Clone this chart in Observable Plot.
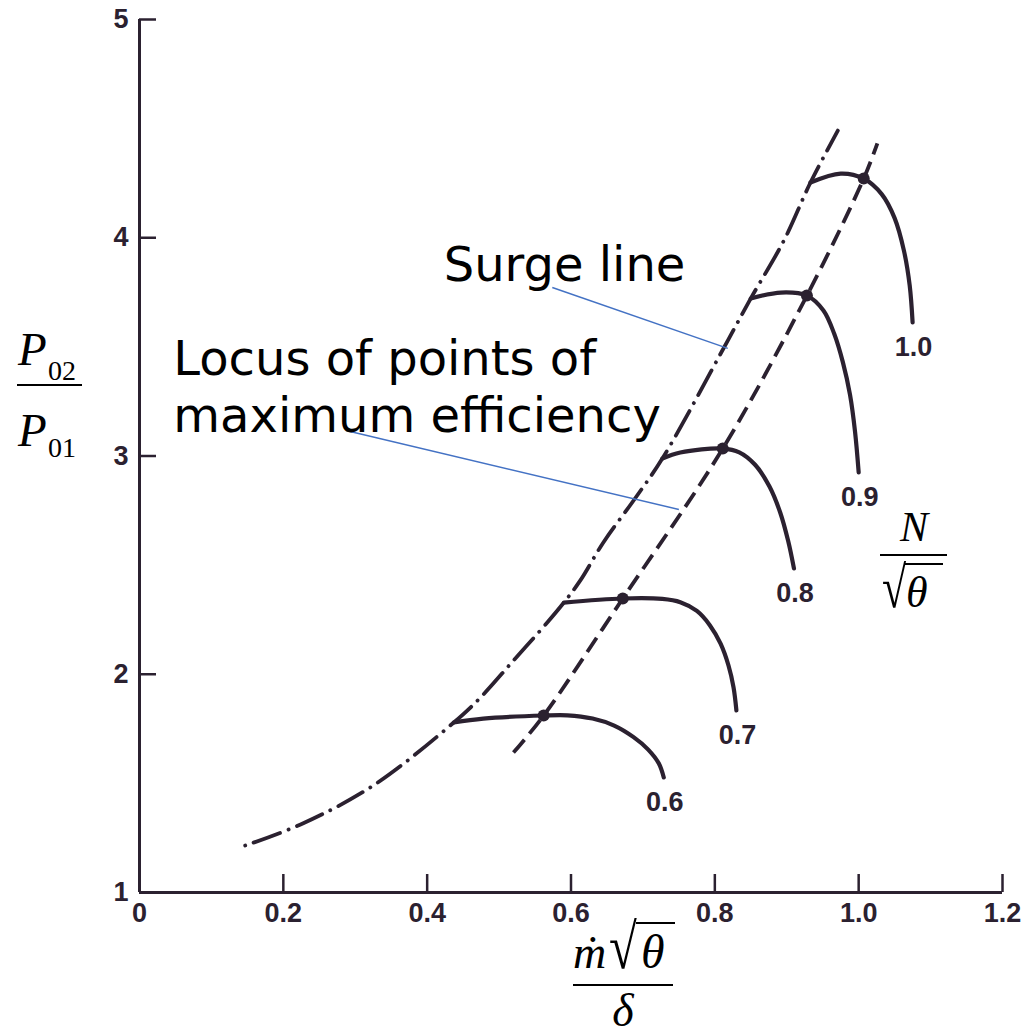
<!DOCTYPE html>
<html>
<head>
<meta charset="utf-8">
<script src="https://cdn.jsdelivr.net/npm/d3@7"></script>
<script src="https://cdn.jsdelivr.net/npm/@observablehq/plot@0.6"></script>
<style>
  body { margin: 0; background: #fff; }
  #chart { position: relative; width: 1036px; height: 1036px; }
  #chart svg.titles { position: absolute; left: 0; top: 0; pointer-events: none; }
</style>
</head>
<body>
<div id="chart"></div>
<script>
// Axis ticks
const xTicks = [0, 0.2, 0.4, 0.6, 0.8, 1.0, 1.2];
const yTicks = [1, 2, 3, 4, 5];

// Constant-speed characteristics N/√θ: mass flow parameter vs pressure ratio
const speedLabels = ["0.6", "0.7", "0.8", "0.9", "1.0"];
const flow06  = [0.437, 0.478, 0.562, 0.595, 0.630, 0.660, 0.687, 0.707, 0.722, 0.729];
const ratio06 = [1.779, 1.797, 1.811, 1.812, 1.797, 1.765, 1.712, 1.656, 1.592, 1.527];
const flow07  = [0.590, 0.672, 0.727, 0.752, 0.775, 0.793, 0.808, 0.819, 0.826, 0.830];
const ratio07 = [2.328, 2.347, 2.345, 2.330, 2.290, 2.225, 2.140, 2.040, 1.940, 1.834];
const flow08  = [0.727, 0.752, 0.811, 0.834, 0.856, 0.876, 0.891, 0.902, 0.910];
const ratio08 = [2.988, 3.016, 3.034, 3.017, 2.960, 2.860, 2.740, 2.610, 2.485];
const flow09  = [0.850, 0.892, 0.928, 0.951, 0.966, 0.978, 0.988, 0.995, 1.000];
const ratio09 = [3.722, 3.749, 3.735, 3.667, 3.560, 3.430, 3.280, 3.110, 2.925];
const flow10  = [0.933, 0.975, 1.007, 1.032, 1.050, 1.063, 1.071, 1.075];
const ratio10 = [4.253, 4.294, 4.271, 4.200, 4.090, 3.940, 3.780, 3.612];

// Points of maximum efficiency on each speed line
const peakFlow  = [0.562, 0.672, 0.811, 0.928, 1.007];
const peakRatio = [1.811, 2.347, 3.034, 3.735, 4.271];

// Surge line (dash-dot)
const surgeFlow  = [0.147, 0.227, 0.325, 0.437, 0.474, 0.520, 0.567, 0.590, 0.613, 0.645, 0.690, 0.727, 0.818, 0.850, 0.896, 0.933, 0.971];
const surgeRatio = [1.215, 1.316, 1.490, 1.779, 1.893, 2.063, 2.237, 2.328, 2.430, 2.604, 2.810, 2.988, 3.529, 3.722, 3.987, 4.253, 4.491];

// Locus of maximum efficiency (dashed)
const locusFlow  = [0.520, 0.562, 0.672, 0.811, 0.928, 1.007, 1.026];
const locusRatio = [1.641, 1.811, 2.347, 3.034, 3.735, 4.271, 4.432];

// Callouts: text anchors and leader lines in data units
const calloutText = ["Surge line", "Locus of points of\nmaximum efficiency"];
const calloutX = [0.423, 0.047];
const calloutY = [3.800, 3.108];
const leaderX1 = [0.574, 0.287];
const leaderY1 = [3.772, 3.117];
const leaderX2 = [0.818, 0.750];
const leaderY2 = [3.493, 2.755];

// ---- tables built from the arrays above ----
const speedFlows = [flow06, flow07, flow08, flow09, flow10];
const speedRatios = [ratio06, ratio07, ratio08, ratio09, ratio10];
const speedLines = speedLabels.flatMap((s, k) =>
  speedFlows[k].map((f, i) => ({speed: s, flow: f, ratio: speedRatios[k][i]})));
const speedEnds = speedLabels.map((s, k) => ({
  speed: s,
  flow: speedFlows[k][speedFlows[k].length - 1],
  ratio: speedRatios[k][speedRatios[k].length - 1]
}));
const peaks = peakFlow.map((f, i) => ({flow: f, ratio: peakRatio[i]}));
const surge = surgeFlow.map((f, i) => ({flow: f, ratio: surgeRatio[i]}));
const locus = locusFlow.map((f, i) => ({flow: f, ratio: locusRatio[i]}));
const callouts = calloutText.map((t, i) => ({text: t, flow: calloutX[i], ratio: calloutY[i]}));
const leaders = leaderX1.map((x, i) => ({x1: x, y1: leaderY1[i], x2: leaderX2[i], y2: leaderY2[i]}));

const ink = "#2b2130";
const tickFont = {fontSize: 27, fontWeight: "bold"};

const chart = Plot.plot({
  width: 1036,
  height: 1036,
  marginLeft: 139,
  marginRight: 34,
  marginTop: 19,
  marginBottom: 144,
  x: {domain: [0, 1.2]},
  y: {domain: [1, 5]},
  style: {fontFamily: "'Liberation Sans', Arial, Helvetica, sans-serif", background: "white", overflow: "visible"},
  marks: [
    // axis labels, ticks drawn inward below
    Plot.axisX(xTicks, {tickSize: 0, tickPadding: 10, label: null, color: ink, ...tickFont,
      tickFormat: d => d === 0 ? "0" : d.toFixed(1)}),
    Plot.axisY(yTicks, {tickSize: 0, tickPadding: 11, label: null, color: ink, ...tickFont,
      tickFormat: d => String(d)}),
    // axis lines
    Plot.ruleY([1], {x1: 0, x2: 1.2, stroke: ink, strokeWidth: 3}),
    Plot.ruleX([0], {y1: 1, y2: 5, stroke: ink, strokeWidth: 3}),
    // inward tick marks
    Plot.ruleX(xTicks.filter(d => d > 0), {x: d => d, y1: 1, y2: 1, insetTop: -18, stroke: ink, strokeWidth: 2.5}),
    Plot.ruleY(yTicks.filter(d => d > 1), {y: d => d, x1: 0, x2: 0, insetRight: -17, stroke: ink, strokeWidth: 2.5}),
    // surge line
    Plot.line(surge, {x: "flow", y: "ratio", curve: "catmull-rom", stroke: ink, strokeWidth: 3.8,
      strokeLinecap: "round", strokeDasharray: "0.1,9,28,9"}),
    // locus of maximum efficiency
    Plot.line(locus, {x: "flow", y: "ratio", curve: "catmull-rom", stroke: ink, strokeWidth: 3.8,
      strokeLinecap: "butt", strokeDasharray: "17,8"}),
    // constant-speed lines
    Plot.line(speedLines, {x: "flow", y: "ratio", z: "speed", curve: "catmull-rom", stroke: ink,
      strokeWidth: 4.2, strokeLinecap: "round", strokeLinejoin: "round"}),
    Plot.dot(peaks, {x: "flow", y: "ratio", r: 6, fill: ink}),
    // speed labels below each line end
    Plot.text(speedEnds, {x: "flow", y: "ratio", text: "speed", dy: 25, dx: 1, fill: ink, ...tickFont}),
    // callouts
    Plot.link(leaders, {x1: "x1", y1: "y1", x2: "x2", y2: "y2", stroke: "#4472C4", strokeWidth: 1.5}),
    Plot.text(callouts, {x: "flow", y: "ratio", text: "text", textAnchor: "start", lineAnchor: "bottom",
      lineHeight: 1.19, fontSize: 48, fill: "#000",
      fontFamily: "'DejaVu Sans', Verdana, sans-serif"})
  ]
});

const host = document.getElementById("chart");
host.appendChild(chart);

// Axis titles set as fractions
const ns = "http://www.w3.org/2000/svg";
const titles = document.createElementNS(ns, "svg");
titles.setAttribute("class", "titles");
titles.setAttribute("width", 1036);
titles.setAttribute("height", 1036);
titles.innerHTML = `
<g font-family="'Liberation Serif','Times New Roman',serif" fill="#000" stroke="none">
  <text x="18" y="365" font-size="47" font-style="italic">P</text>
  <text x="48" y="380" font-size="28">02</text>
  <line x1="17" x2="82" y1="385" y2="385" stroke="#000" stroke-width="2.2"/>
  <text x="18" y="446" font-size="47" font-style="italic">P</text>
  <text x="48" y="457" font-size="28">01</text>

  <text x="573" y="968" font-size="46" font-style="italic">ṁ</text>
  <text transform="translate(609,968) scale(1.1,1.38)" font-size="46">√</text>
  <line x1="636" x2="675" y1="923" y2="923" stroke="#000" stroke-width="2.2"/>
  <text x="641" y="968" font-size="48" font-style="italic">θ</text>
  <line x1="573" x2="673" y1="985" y2="985" stroke="#000" stroke-width="2.2"/>
  <text x="623" y="1026" font-size="46" font-style="italic" text-anchor="middle">δ</text>

  <text x="914" y="541" font-size="42" font-style="italic" text-anchor="middle">N</text>
  <line x1="880" x2="947" y1="555" y2="555" stroke="#000" stroke-width="2.2"/>
  <text transform="translate(882,607) scale(1,1.33)" font-size="44">√</text>
  <line x1="904" x2="943" y1="564" y2="564" stroke="#000" stroke-width="2.2"/>
  <text x="906" y="607" font-size="44" font-style="italic">θ</text>
</g>`;
host.appendChild(titles);
</script>
</body>
</html>
